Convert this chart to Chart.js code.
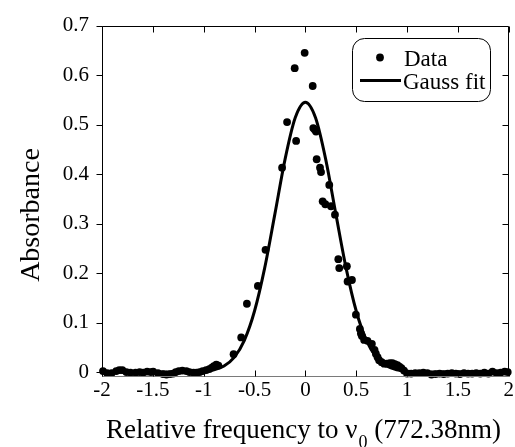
<!DOCTYPE html>
<html><head><meta charset="utf-8">
<script src="https://cdn.jsdelivr.net/npm/chart.js@4/dist/chart.umd.min.js"></script>
<style>html,body{margin:0;padding:0;background:#fff}#wrap{width:515px;height:447px}</style>
</head><body><div id="wrap"><canvas id="c" width="515" height="447"></canvas></div>
<script>
const dataX = [-1.99,-1.95,-1.905,-1.86,-1.83,-1.80,-1.76,-1.72,-1.67,-1.63,-1.595,-1.556,-1.52,-1.497,-1.45,-1.40,-1.366,-1.33,-1.30,-1.275,-1.245,-1.21,-1.17,-1.14,-1.10,-1.07,-1.04,-1.01,-0.975,-0.945,-0.92,-0.90,-0.876,-0.855,
  -0.706,-0.631,-0.575,-0.467,-0.392,-0.229,-0.18,-0.105,-0.091,-0.007,
  0.072,0.078,0.092,0.105,0.111,0.144,0.154,0.17,0.196,0.235,0.252,0.291,0.324,0.333,0.408,0.415,0.458,0.497,0.536,0.546,0.556,0.578,0.611,0.654,0.68,0.693,0.71,0.725,0.75,0.775,0.80,0.83,0.856,0.88,0.905,0.925,0.945,0.97,
  1.00,1.04,1.08,1.12,1.16,1.20,1.24,1.28,1.32,1.36,1.40,1.44,1.48,1.52,1.56,1.60,1.64,1.68,1.72,1.76,1.80,1.84,1.88,1.92,1.96,1.99];
const dataY = [0.002,-0.002,-0.002,0.002,0.004,0.004,0.000,-0.001,-0.001,0.000,-0.001,0.001,0.000,0.001,-0.002,-0.004,-0.005,-0.004,-0.003,0.000,0.002,0.003,0.002,0.000,-0.001,-0.001,0.000,0.002,0.004,0.006,0.009,0.012,0.015,0.013,
  0.036,0.070,0.138,0.174,0.247,0.413,0.505,0.614,0.467,0.645,
  0.578,0.493,0.490,0.486,0.430,0.413,0.404,0.345,0.339,0.378,0.335,0.318,0.228,0.210,0.214,0.183,0.186,0.116,0.087,0.078,0.073,0.065,0.063,0.057,0.045,0.037,0.030,0.024,0.020,0.017,0.017,0.018,0.018,0.016,0.014,0.011,0.008,0.003,
  -0.003,-0.003,-0.002,-0.002,-0.001,-0.002,-0.005,-0.004,-0.003,-0.004,-0.003,-0.002,-0.003,-0.004,-0.002,-0.003,-0.003,-0.002,-0.003,-0.001,-0.003,0.001,-0.002,-0.001,0.001,0.000];
const fitX = [-2,-1.9,-1.8,-1.7,-1.6,-1.5,-1.4,-1.3,-1.2,-1.1,-1,-0.9,-0.8,-0.7,-0.6,-0.5,-0.4,-0.3,-0.2,-0.1,0,0.1,0.2,0.3,0.4,0.5,0.6,0.7,0.8,0.9,1,1.1,1.2,1.3,1.4,1.5,1.6,1.7,1.8,1.9,2];
const fitY = [0,0,0,0,0,0,0,0,0.0001,0.0004,0.0014,0.0044,0.0121,0.0296,0.0641,0.1233,0.2105,0.3191,0.4296,0.5136,0.545,0.5136,0.4296,0.3191,0.2105,0.1233,0.0641,0.0296,0.0121,0.0044,0.0014,0.0004,0.0001,0,0,0,0,0,0,0,0];
const xTicks = [-2,-1.5,-1,-0.5,0,0.5,1,1.5,2];
const xTickLabels = ['-2','-1.5','-1','-0.5','0','0.5','1','1.5','2'];
const yTicks = [0,0.1,0.2,0.3,0.4,0.5,0.6,0.7];
const yTickLabels = ['0','0.1','0.2','0.3','0.4','0.5','0.6','0.7'];
const seriesLabels = ['Data','Gauss fit'];
const xTitleParts = ['Relative frequency to \u03bd', '0', ' (772.38nm)'];
const yTitle = 'Absorbance';

const SERIF = "'Liberation Serif','Times New Roman',serif";

const overlay = {
  id: 'overlay',
  afterDraw(chart) {
    const {ctx, chartArea: a, scales: {x, y}} = chart;
    ctx.save();
    const L = Math.round(a.left) + 0.5, R = Math.round(a.right) - 0.5, T = Math.round(a.top) + 0.5, B = Math.round(a.bottom) - 0.5;
    ctx.lineWidth = 1;
    ctx.strokeStyle = '#000';
    ctx.beginPath();
    ctx.moveTo(L, B); ctx.lineTo(L, T); ctx.lineTo(R, T); ctx.lineTo(R, B);
    ctx.stroke();
    ctx.strokeStyle = '#7a7a7a';
    ctx.beginPath(); ctx.moveTo(L, B); ctx.lineTo(R + 0.5, B); ctx.stroke();
    ctx.strokeStyle = '#000';
    ctx.beginPath();
    xTicks.forEach(v => {
      const px = Math.round(x.getPixelForValue(v)) + 0.5;
      ctx.moveTo(px, T); ctx.lineTo(px, T + 6);
      ctx.moveTo(px, B); ctx.lineTo(px, B - 6);
    });
    yTicks.forEach(v => {
      const py = Math.round(y.getPixelForValue(v)) + 0.5;
      ctx.moveTo(L - 6, py); ctx.lineTo(L, py);
      ctx.moveTo(R, py); ctx.lineTo(R - 6, py);
    });
    ctx.stroke();

    // legend
    const bx = 352.5, by = 38.5, bw = 138, bh = 63;
    ctx.beginPath();
    ctx.roundRect(bx, by, bw, bh, 12);
    ctx.fillStyle = '#fff';
    ctx.fill();
    ctx.strokeStyle = '#000';
    ctx.lineWidth = 1;
    ctx.stroke();
    ctx.fillStyle = '#000';
    ctx.beginPath(); ctx.arc(380, 57.5, 3.9, 0, Math.PI * 2); ctx.fill();
    ctx.lineWidth = 3;
    ctx.beginPath(); ctx.moveTo(360, 80.5); ctx.lineTo(401, 80.5); ctx.stroke();
    ctx.font = "23px " + SERIF;
    ctx.textAlign = 'left';
    ctx.textBaseline = 'alphabetic';
    ctx.fillText(seriesLabels[0], 404, 66);
    ctx.fillText(seriesLabels[1], 403, 89);

    // x title with subscript
    const mainFont = "27px " + SERIF, subFont = "18px " + SERIF;
    ctx.font = mainFont; const w1 = ctx.measureText(xTitleParts[0]).width;
    const w3 = ctx.measureText(xTitleParts[2]).width;
    ctx.font = subFont; const w2 = ctx.measureText(xTitleParts[1]).width + 1;
    const total = w1 + w2 + w3;
    let sx = 303.5 - total / 2;
    const base = 438;
    ctx.font = mainFont; ctx.fillText(xTitleParts[0], sx, base);
    ctx.font = subFont; ctx.fillText(xTitleParts[1], sx + w1 + 1, base + 10);
    ctx.font = mainFont; ctx.fillText(xTitleParts[2], sx + w1 + w2, base);

    // y title
    ctx.translate(39, 215);
    ctx.rotate(-Math.PI / 2);
    ctx.font = "28px " + SERIF;
    ctx.textAlign = 'center';
    ctx.fillText(yTitle, 0, 0);
    ctx.restore();
  }
};

const pts = dataX.map((v, i) => ({x: v, y: dataY[i]}));
const fitPts = fitX.map((v, i) => ({x: v, y: fitY[i]}));

new Chart(document.getElementById('c'), {
  type: 'scatter',
  data: {
    datasets: [
      {label: seriesLabels[1], data: fitPts, showLine: true, pointRadius: 0, borderColor: '#000', borderWidth: 3, cubicInterpolationMode: 'monotone', fill: false, clip: false, order: 2},
      {label: seriesLabels[0], data: pts, showLine: false, pointRadius: 3.9, pointBackgroundColor: '#000', pointBorderWidth: 0, clip: false, order: 1}
    ]
  },
  options: {
    responsive: false,
    animation: false,
    devicePixelRatio: 1,
    layout: {padding: {top: 19, right: 5, left: 0, bottom: 0}},
    plugins: {legend: {display: false}, tooltip: {enabled: false}},
    scales: {
      x: {
        type: 'linear', min: -2, max: 2,
        afterBuildTicks: s => { s.ticks = xTicks.map(v => ({value: v})); },
        afterFit: s => { s.height = 70; },
        grid: {display: false, drawTicks: false}, border: {display: false},
        ticks: {callback: (v, i) => xTickLabels[i], font: {family: SERIF, size: 21}, color: '#000', padding: 1, maxRotation: 0, autoSkip: false}
      },
      y: {
        type: 'linear', min: -0.01, max: 0.7,
        afterBuildTicks: s => { s.ticks = yTicks.map(v => ({value: v})); },
        afterFit: s => { s.width = 102; },
        grid: {display: false, drawTicks: false}, border: {display: false},
        ticks: {callback: (v, i) => yTickLabels[i], font: {family: SERIF, size: 21}, color: '#000', padding: 13, autoSkip: false}
      }
    }
  },
  plugins: [overlay]
});
</script></body></html>
